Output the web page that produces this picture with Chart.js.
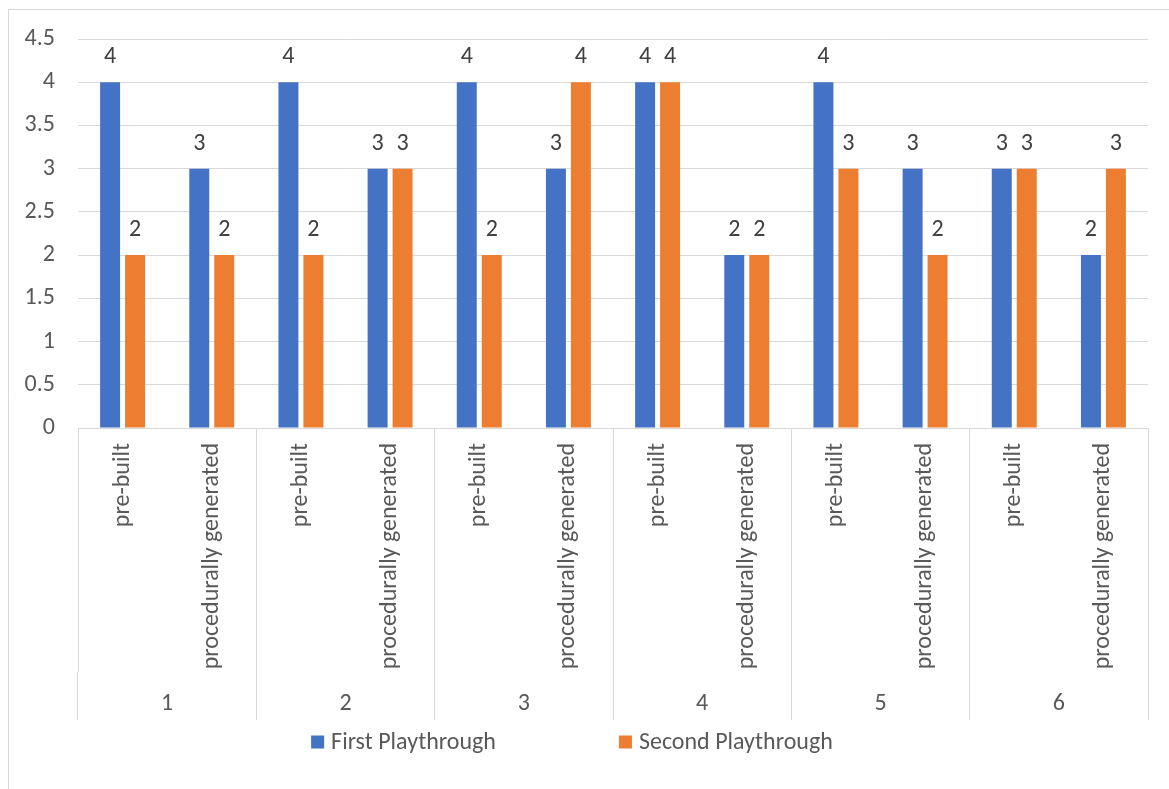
<!DOCTYPE html>
<html>
<head>
<meta charset="utf-8">
<title>Playthrough ratings</title>
<script src="https://cdn.jsdelivr.net/npm/chart.js@4.4.1/dist/chart.umd.min.js"></script>
<style>
  html, body { margin: 0; padding: 0; background: #ffffff; }
  #wrap { width: 1169px; height: 789px; }
</style>
</head>
<body>
<div id="wrap"><canvas id="chart" width="1169" height="789"></canvas></div>
<script>
// Level type inside each session group
const categories = [
  'pre-built', 'procedurally generated',
  'pre-built', 'procedurally generated',
  'pre-built', 'procedurally generated',
  'pre-built', 'procedurally generated',
  'pre-built', 'procedurally generated',
  'pre-built', 'procedurally generated'
];
// Outer grouping labels
const groups = ['1', '2', '3', '4', '5', '6'];

const seriesNames = ['First Playthrough', 'Second Playthrough'];
const firstPlaythrough  = [4, 3, 4, 3, 4, 3, 4, 2, 4, 3, 3, 2];
const secondPlaythrough = [2, 2, 2, 3, 2, 4, 4, 2, 3, 2, 3, 3];

const yMin = 0, yMax = 4.5, yStep = 0.5;

const FONT = 'Carlito, Calibri, Lato, "Open Sans", sans-serif';
const BLUE = '#4472C4';
const ORANGE = '#ED7D31';
const GRID = '#d9d9d9';
const AXIS_TEXT = '#595959';
const VALUE_TEXT = '#404040';

// Only the boundaries between outer groups get a separator line
const groupBoundary = (c) =>
  (c.index === undefined || c.index % 2 === 0) ? GRID : 'rgba(0,0,0,0)';

// Light frame along the top and left edges
const framePlugin = {
  id: 'frame',
  beforeDraw(chart) {
    const ctx = chart.ctx;
    ctx.save();
    ctx.fillStyle = '#ffffff';
    ctx.fillRect(0, 0, chart.width, chart.height);
    ctx.strokeStyle = GRID;
    ctx.lineWidth = 1;
    ctx.beginPath();
    ctx.moveTo(8.5, chart.height);
    ctx.lineTo(8.5, 9.5);
    ctx.lineTo(chart.width, 9.5);
    ctx.stroke();
    ctx.restore();
  }
};

// Value labels above each bar
const valueLabels = {
  id: 'valueLabels',
  afterDatasetsDraw(chart) {
    const ctx = chart.ctx;
    ctx.save();
    ctx.font = '24px ' + FONT;
    ctx.fillStyle = VALUE_TEXT;
    ctx.textAlign = 'center';
    ctx.textBaseline = 'alphabetic';
    chart.data.datasets.forEach((ds, i) => {
      const meta = chart.getDatasetMeta(i);
      meta.data.forEach((bar, j) => {
        ctx.fillText(String(ds.data[j]), bar.x, bar.y - 19);
      });
    });
    ctx.restore();
  }
};

// Legend row under the category axis
const legendRow = {
  id: 'legendRow',
  afterDraw(chart) {
    const ctx = chart.ctx;
    ctx.save();
    ctx.font = '24px ' + FONT;
    ctx.textBaseline = 'middle';
    ctx.textAlign = 'left';
    const box = 13, gap = 7, itemGap = 123, cy = 742, center = 572;
    const items = chart.data.datasets.map(ds => ({
      text: ds.label, color: ds.backgroundColor,
      w: box + gap + ctx.measureText(ds.label).width
    }));
    const total = items.reduce((s, it) => s + it.w, 0) + itemGap * (items.length - 1);
    let x = center - total / 2;
    items.forEach(it => {
      ctx.fillStyle = it.color;
      ctx.fillRect(x, cy - box / 2, box, box);
      ctx.fillStyle = AXIS_TEXT;
      ctx.fillText(it.text, x + box + gap, cy + 1);
      x += it.w + itemGap;
    });
    ctx.restore();
  }
};

new Chart(document.getElementById('chart'), {
  type: 'bar',
  data: {
    labels: categories,
    datasets: [
      { label: seriesNames[0], data: firstPlaythrough, backgroundColor: BLUE,
        categoryPercentage: 0.56, barPercentage: 0.8 },
      { label: seriesNames[1], data: secondPlaythrough, backgroundColor: ORANGE,
        categoryPercentage: 0.56, barPercentage: 0.8 }
    ]
  },
  options: {
    responsive: false,
    animation: false,
    devicePixelRatio: 1,
    layout: { padding: { left: 0, right: 21, top: 39, bottom: 69 } },
    plugins: {
      legend: { display: false },
      tooltip: { enabled: false }
    },
    scales: {
      y: {
        min: yMin, max: yMax,
        ticks: {
          stepSize: yStep,
          padding: 23,
          color: AXIS_TEXT,
          font: { family: FONT, size: 24 },
          callback: (v) => String(parseFloat(Number(v).toFixed(2)))
        },
        grid: { color: GRID, lineWidth: 1, drawTicks: false },
        border: { display: false },
        afterFit(scale) { scale.width = 78; }
      },
      x: {
        weight: 1,
        offset: true,
        ticks: {
          autoSkip: false,
          minRotation: 90,
          maxRotation: 90,
          padding: -229,
          color: AXIS_TEXT,
          font: { family: FONT, size: 24 }
        },
        grid: {
          offset: true,
          drawOnChartArea: false,
          drawTicks: true,
          tickLength: 244,
          color: groupBoundary,
          tickColor: groupBoundary,
          lineWidth: 1
        },
        border: { display: false },
        afterFit(scale) { scale.height = 244; }
      },
      x2: {
        type: 'category',
        position: 'bottom',
        weight: 2,
        labels: groups,
        offset: true,
        ticks: {
          autoSkip: false,
          maxRotation: 0,
          padding: -30.4,
          color: AXIS_TEXT,
          font: { family: FONT, size: 24 }
        },
        grid: {
          offset: true,
          drawOnChartArea: false,
          drawTicks: true,
          tickLength: 48,
          color: GRID,
          tickColor: GRID,
          lineWidth: 1
        },
        border: { display: false },
        afterFit(scale) { scale.height = 48; }
      }
    }
  },
  plugins: [framePlugin, valueLabels, legendRow]
});
</script>
</body>
</html>
